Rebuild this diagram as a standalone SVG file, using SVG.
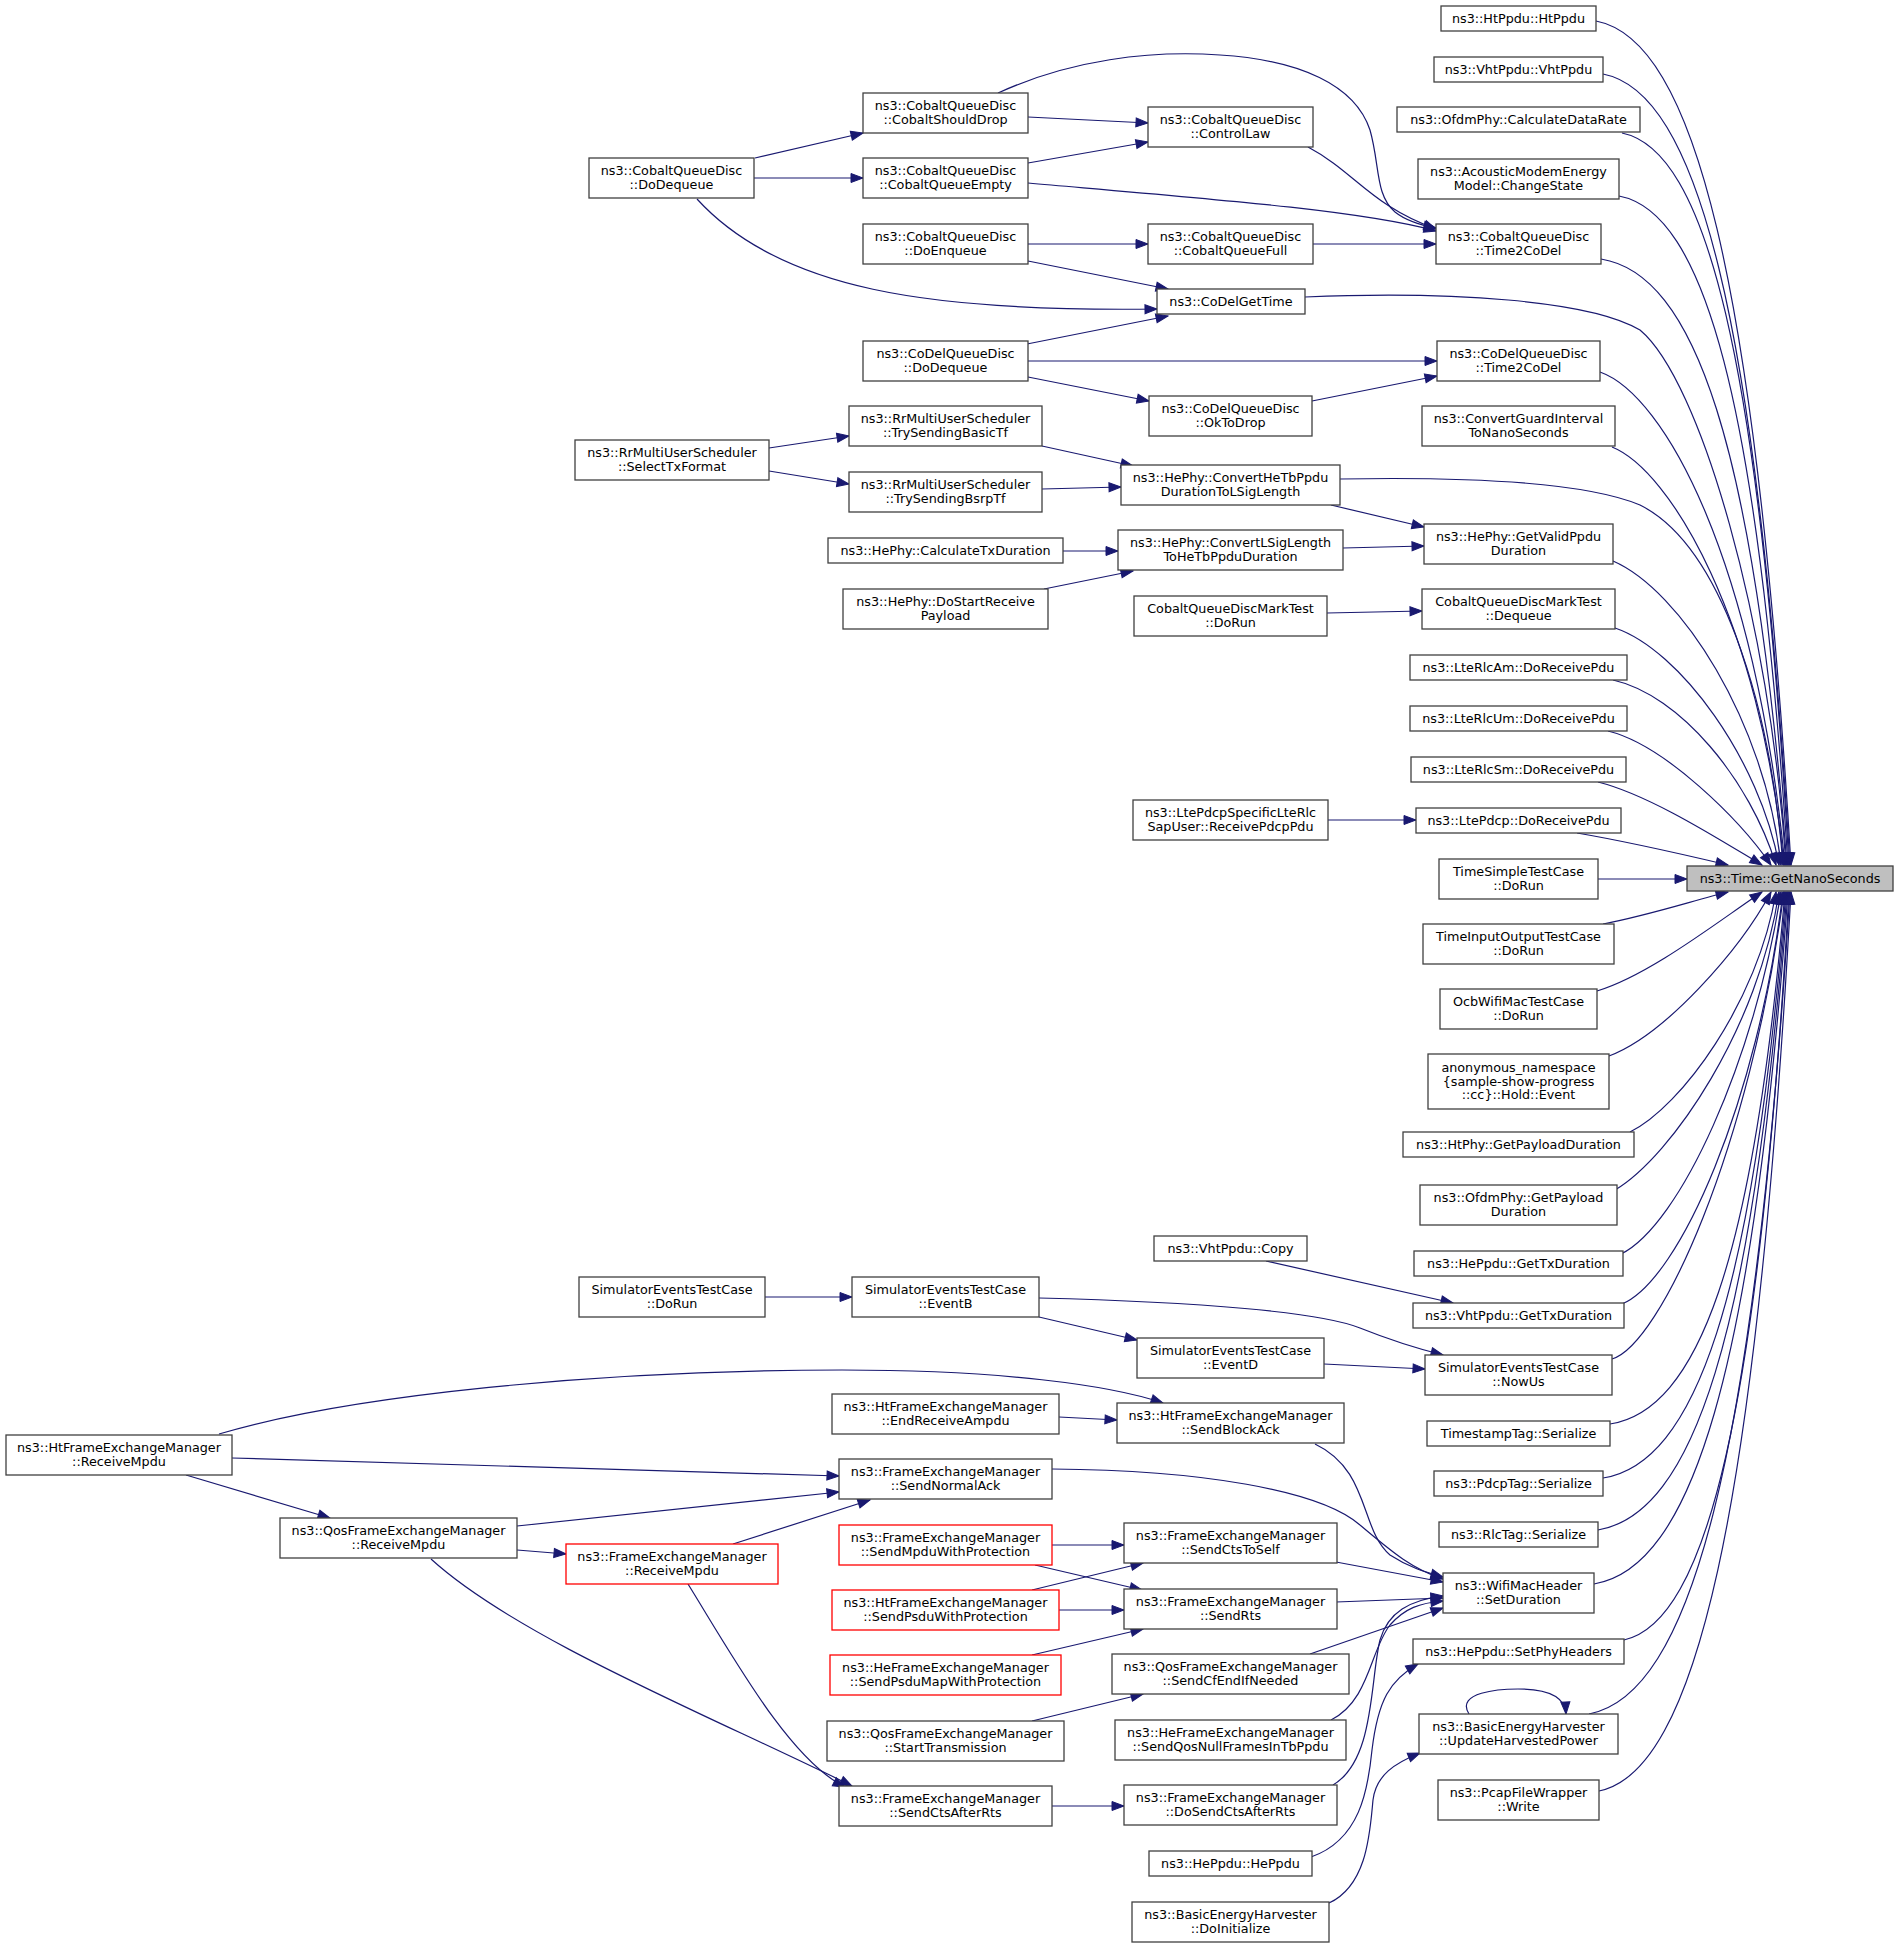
<svg xmlns="http://www.w3.org/2000/svg" width="1899" height="1948" viewBox="0 0 1899 1948">
<defs>
<marker id="a" markerUnits="userSpaceOnUse" markerWidth="14" markerHeight="10" refX="12" refY="4.5" orient="auto" overflow="visible"><path d="M0,0 L12,4.5 L0,9 z" fill="#191970" stroke="#191970" stroke-width="1"/></marker>
</defs>
<style>
.n rect{fill:#fff;stroke:#404040;stroke-width:1.3}
.r rect{stroke:#ff0000}
.g rect{fill:#bfbfbf}
text{font-family:"DejaVu Sans",sans-serif;font-size:12.75px;text-anchor:middle;fill:#000}
#edges path{fill:none;stroke:#191970;stroke-width:1.2;marker-end:url(#a)}
</style>
<rect width="1899" height="1948" fill="#fff"/>
<g id="edges">
<path d="M1596,21 C1693.5,39.7 1755.9,274.2 1791,865"/>
<path d="M1603,74 C1696.5,92 1756.3,311 1790,865"/>
<path d="M1622,133 C1705.5,150 1758.9,352.6 1789,865"/>
<path d="M1619,196 C1703.5,212 1757.6,396.7 1788,865"/>
<path d="M1601,259 C1694,274 1753.5,440.8 1787,865"/>
<path d="M1305,297 C1450,291 1590,300 1640,330 C1700,380 1770,620 1786,865"/>
<path d="M1600,372 C1665,395 1755,560 1785,865"/>
<path d="M1612,447 C1670,470 1760,620 1784,865"/>
<path d="M1340,479 C1450,477 1580,480 1640,505 C1720,545 1770,700 1783,865"/>
<path d="M1613,561 C1680,590 1765,720 1781,865"/>
<path d="M1615,628 C1680,650 1760,760 1779,865"/>
<path d="M1613,680 C1680,695 1750,780 1776,865"/>
<path d="M1608,731 C1665,745 1740,820 1771,865"/>
<path d="M1598,782 C1650,795 1720,840 1762,865"/>
<path d="M1577,833 C1630,842 1690,856 1728,865"/>
<path d="M1598,879 L1687,879"/>
<path d="M1603,924 C1650,915 1695,900 1728,892"/>
<path d="M1597,991 C1650,975 1720,920 1762,892"/>
<path d="M1609,1056 C1665,1035 1740,950 1771,892"/>
<path d="M1630,1132 C1681,1107 1758,1002 1776,892"/>
<path d="M1615,1190 C1672,1156 1759,1027 1779,892"/>
<path d="M1621,1254 C1680,1225 1755,1060 1781,892"/>
<path d="M1622,1304 C1680,1280 1758,1100 1783,892"/>
<path d="M1612,1359 C1660,1345 1750,1150 1784,892"/>
<path d="M1610,1424 C1697.5,1410 1753.5,1264 1785,892"/>
<path d="M1603,1478 C1695,1463 1753,1302 1786,892"/>
<path d="M1598,1530 C1692.5,1514 1753,1339 1787,892"/>
<path d="M1594,1584 C1691,1568 1753,1376 1788,892"/>
<path d="M1624,1640 C1706,1622 1759,1415 1789,892"/>
<path d="M1589,1714 C1689.5,1695 1753.8,1468 1790,892"/>
<path d="M1599,1791 C1694.5,1771.5 1756.3,1521 1791,892"/>
<path d="M755,158 L863,133"/>
<path d="M754,178 L863,178"/>
<path d="M697,199 C780,290 930,312 1157,309"/>
<path d="M1028,117 L1148,123"/>
<path d="M998,93 C1070,60 1150,50 1220,55 C1300,60 1355,85 1370,130 C1380,165 1375,195 1395,212 C1405,220 1420,225 1436,228"/>
<path d="M1028,163 L1148,142"/>
<path d="M1028,183 C1200,198 1360,210 1436,231"/>
<path d="M1308,147 C1355,172 1370,205 1436,229"/>
<path d="M1028,244 L1148,244"/>
<path d="M1028,261 L1168,289"/>
<path d="M1313,244 L1436,244"/>
<path d="M1027,344 L1168,316"/>
<path d="M1027,361 L1437,361"/>
<path d="M1028,377 L1149,401"/>
<path d="M1312,401 L1437,376"/>
<path d="M769,448 L849,436"/>
<path d="M769,471 L849,484"/>
<path d="M1042,446 L1133,466"/>
<path d="M1042,489 L1121,487"/>
<path d="M1331,505 L1424,527"/>
<path d="M1063,551 L1118,551"/>
<path d="M1044,589 L1133,571"/>
<path d="M1343,548 L1424,546"/>
<path d="M1327,613 L1422,611"/>
<path d="M1328,820 L1416,820"/>
<path d="M765,1297 L852,1297"/>
<path d="M1039,1298 C1200,1302 1320,1312 1360,1328 C1390,1340 1415,1348 1443,1355"/>
<path d="M1039,1317 L1137,1340"/>
<path d="M1324,1364 L1425,1369"/>
<path d="M1266,1261 L1453,1303"/>
<path d="M1059,1417 L1117,1420"/>
<path d="M219,1434 C350,1395 600,1370 842,1370 C1000,1370 1110,1385 1163,1403"/>
<path d="M232,1458 C500,1466 700,1470 839,1476"/>
<path d="M186,1475 L330,1518"/>
<path d="M517,1526 L839,1492"/>
<path d="M517,1550 L566,1554"/>
<path d="M431,1559 C520,1640 720,1720 852,1786"/>
<path d="M733,1544 L870,1500"/>
<path d="M688,1584 C735,1660 790,1760 845,1787"/>
<path d="M1315,1444 C1370,1470 1360,1530 1390,1555 C1410,1568 1425,1572 1443,1577"/>
<path d="M1052,1469 C1200,1470 1320,1490 1360,1525 C1390,1550 1410,1568 1443,1579"/>
<path d="M1052,1545 L1124,1545"/>
<path d="M1035,1565 L1142,1590"/>
<path d="M1032,1590 L1143,1563"/>
<path d="M1059,1610 L1124,1610"/>
<path d="M1032,1655 L1143,1629"/>
<path d="M1032,1721 L1143,1694"/>
<path d="M1336,1562 L1443,1582"/>
<path d="M1336,1602 L1443,1598"/>
<path d="M1310,1654 L1443,1608"/>
<path d="M1331,1720 C1370,1700 1370,1650 1390,1625 C1405,1608 1420,1603 1443,1601"/>
<path d="M1333,1785 C1375,1760 1370,1680 1380,1640 C1388,1612 1410,1600 1443,1596"/>
<path d="M1052,1806 L1124,1806"/>
<path d="M1311,1857 C1360,1840 1368,1790 1372,1750 C1378,1700 1390,1680 1418,1664"/>
<path d="M1329,1903 C1368,1885 1370,1830 1373,1800 C1376,1775 1395,1763 1420,1753"/>
<path d="M1469,1714 C1455,1692 1500,1689 1518,1689 C1545,1689 1565,1695 1566,1714"/>
</g>
<g id="n_getnano" class="n g"><rect x="1687" y="866" width="206" height="25"/><text x="1790" y="882.5">ns3::Time::GetNanoSeconds</text></g>
<g id="n_htppdu" class="n"><rect x="1441" y="6" width="155" height="25"/><text x="1518.5" y="22.5">ns3::HtPpdu::HtPpdu</text></g>
<g id="n_vhtppdu" class="n"><rect x="1434" y="57" width="169" height="25"/><text x="1518.5" y="73.5">ns3::VhtPpdu::VhtPpdu</text></g>
<g id="n_calcdr" class="n"><rect x="1397" y="107" width="243" height="25"/><text x="1518.5" y="123.5">ns3::OfdmPhy::CalculateDataRate</text></g>
<g id="n_acoustic" class="n"><rect x="1418" y="159" width="201" height="40"/><text x="1518.5" y="176.2">ns3::AcousticModemEnergy</text><text x="1518.5" y="189.9">Model::ChangeState</text></g>
<g id="n_cobt2c" class="n"><rect x="1436" y="224" width="165" height="40"/><text x="1518.5" y="241.2">ns3::CobaltQueueDisc</text><text x="1518.5" y="254.9">::Time2CoDel</text></g>
<g id="n_codelt2c" class="n"><rect x="1437" y="341" width="163" height="40"/><text x="1518.5" y="358.2">ns3::CoDelQueueDisc</text><text x="1518.5" y="371.9">::Time2CoDel</text></g>
<g id="n_convgi" class="n"><rect x="1422" y="406" width="193" height="40"/><text x="1518.5" y="423.2">ns3::ConvertGuardInterval</text><text x="1518.5" y="436.9">ToNanoSeconds</text></g>
<g id="n_getvalid" class="n"><rect x="1424" y="524" width="189" height="40"/><text x="1518.5" y="541.2">ns3::HePhy::GetValidPpdu</text><text x="1518.5" y="554.9">Duration</text></g>
<g id="n_mtdeq" class="n"><rect x="1422" y="589" width="193" height="40"/><text x="1518.5" y="606.2">CobaltQueueDiscMarkTest</text><text x="1518.5" y="619.9">::Dequeue</text></g>
<g id="n_rlcam" class="n"><rect x="1410" y="655" width="217" height="25"/><text x="1518.5" y="671.5">ns3::LteRlcAm::DoReceivePdu</text></g>
<g id="n_rlcum" class="n"><rect x="1410" y="706" width="217" height="25"/><text x="1518.5" y="722.5">ns3::LteRlcUm::DoReceivePdu</text></g>
<g id="n_rlcsm" class="n"><rect x="1411" y="757" width="215" height="25"/><text x="1518.5" y="773.5">ns3::LteRlcSm::DoReceivePdu</text></g>
<g id="n_pdcp" class="n"><rect x="1416" y="808" width="205" height="25"/><text x="1518.5" y="824.5">ns3::LtePdcp::DoReceivePdu</text></g>
<g id="n_timesimple" class="n"><rect x="1439" y="859" width="159" height="40"/><text x="1518.5" y="876.2">TimeSimpleTestCase</text><text x="1518.5" y="889.9">::DoRun</text></g>
<g id="n_timeio" class="n"><rect x="1423" y="924" width="191" height="40"/><text x="1518.5" y="941.2">TimeInputOutputTestCase</text><text x="1518.5" y="954.9">::DoRun</text></g>
<g id="n_ocb" class="n"><rect x="1440" y="989" width="157" height="40"/><text x="1518.5" y="1006.2">OcbWifiMacTestCase</text><text x="1518.5" y="1019.9">::DoRun</text></g>
<g id="n_anon" class="n"><rect x="1428" y="1054" width="181" height="55"/><text x="1518.5" y="1071.8">anonymous_namespace</text><text x="1518.5" y="1085.5">{sample-show-progress</text><text x="1518.5" y="1099.2">::cc}::Hold::Event</text></g>
<g id="n_htphy" class="n"><rect x="1403" y="1132" width="231" height="25"/><text x="1518.5" y="1148.5">ns3::HtPhy::GetPayloadDuration</text></g>
<g id="n_ofdmpay" class="n"><rect x="1420" y="1185" width="197" height="40"/><text x="1518.5" y="1202.2">ns3::OfdmPhy::GetPayload</text><text x="1518.5" y="1215.9">Duration</text></g>
<g id="n_heppdutx" class="n"><rect x="1414" y="1251" width="209" height="25"/><text x="1518.5" y="1267.5">ns3::HePpdu::GetTxDuration</text></g>
<g id="n_vhttx" class="n"><rect x="1413" y="1303" width="211" height="25"/><text x="1518.5" y="1319.5">ns3::VhtPpdu::GetTxDuration</text></g>
<g id="n_nowus" class="n"><rect x="1425" y="1355" width="187" height="40"/><text x="1518.5" y="1372.2">SimulatorEventsTestCase</text><text x="1518.5" y="1385.9">::NowUs</text></g>
<g id="n_timestamp" class="n"><rect x="1427" y="1421" width="183" height="25"/><text x="1518.5" y="1437.5">TimestampTag::Serialize</text></g>
<g id="n_pdcptag" class="n"><rect x="1434" y="1471" width="169" height="25"/><text x="1518.5" y="1487.5">ns3::PdcpTag::Serialize</text></g>
<g id="n_rlctag" class="n"><rect x="1439" y="1522" width="159" height="25"/><text x="1518.5" y="1538.5">ns3::RlcTag::Serialize</text></g>
<g id="n_setdur" class="n"><rect x="1443" y="1573" width="151" height="40"/><text x="1518.5" y="1590.2">ns3::WifiMacHeader</text><text x="1518.5" y="1603.9">::SetDuration</text></g>
<g id="n_setphy" class="n"><rect x="1413" y="1639" width="211" height="25"/><text x="1518.5" y="1655.5">ns3::HePpdu::SetPhyHeaders</text></g>
<g id="n_updharv" class="n"><rect x="1419" y="1714" width="199" height="40"/><text x="1518.5" y="1731.2">ns3::BasicEnergyHarvester</text><text x="1518.5" y="1744.9">::UpdateHarvestedPower</text></g>
<g id="n_pcap" class="n"><rect x="1438" y="1780" width="161" height="40"/><text x="1518.5" y="1797.2">ns3::PcapFileWrapper</text><text x="1518.5" y="1810.9">::Write</text></g>
<g id="n_ctrllaw" class="n"><rect x="1148" y="107" width="165" height="40"/><text x="1230.5" y="124.2">ns3::CobaltQueueDisc</text><text x="1230.5" y="137.9">::ControlLaw</text></g>
<g id="n_cqfull" class="n"><rect x="1148" y="224" width="165" height="40"/><text x="1230.5" y="241.2">ns3::CobaltQueueDisc</text><text x="1230.5" y="254.9">::CobaltQueueFull</text></g>
<g id="n_codelget" class="n"><rect x="1157" y="289" width="148" height="25"/><text x="1231" y="305.5">ns3::CoDelGetTime</text></g>
<g id="n_oktodrop" class="n"><rect x="1149" y="396" width="163" height="40"/><text x="1230.5" y="413.2">ns3::CoDelQueueDisc</text><text x="1230.5" y="426.9">::OkToDrop</text></g>
<g id="n_convhetb" class="n"><rect x="1121" y="465" width="219" height="40"/><text x="1230.5" y="482.2">ns3::HePhy::ConvertHeTbPpdu</text><text x="1230.5" y="495.9">DurationToLSigLength</text></g>
<g id="n_convlsig" class="n"><rect x="1118" y="530" width="225" height="40"/><text x="1230.5" y="547.2">ns3::HePhy::ConvertLSigLength</text><text x="1230.5" y="560.9">ToHeTbPpduDuration</text></g>
<g id="n_mtrun" class="n"><rect x="1134" y="596" width="193" height="40"/><text x="1230.5" y="613.2">CobaltQueueDiscMarkTest</text><text x="1230.5" y="626.9">::DoRun</text></g>
<g id="n_pdcpsap" class="n"><rect x="1133" y="800" width="195" height="40"/><text x="1230.5" y="817.2">ns3::LtePdcpSpecificLteRlc</text><text x="1230.5" y="830.9">SapUser::ReceivePdcpPdu</text></g>
<g id="n_vhtcopy" class="n"><rect x="1154" y="1236" width="153" height="25"/><text x="1230.5" y="1252.5">ns3::VhtPpdu::Copy</text></g>
<g id="n_eventd" class="n"><rect x="1137" y="1338" width="187" height="40"/><text x="1230.5" y="1355.2">SimulatorEventsTestCase</text><text x="1230.5" y="1368.9">::EventD</text></g>
<g id="n_sendba" class="n"><rect x="1117" y="1403" width="227" height="40"/><text x="1230.5" y="1420.2">ns3::HtFrameExchangeManager</text><text x="1230.5" y="1433.9">::SendBlockAck</text></g>
<g id="n_ctstoself" class="n"><rect x="1124" y="1523" width="213" height="40"/><text x="1230.5" y="1540.2">ns3::FrameExchangeManager</text><text x="1230.5" y="1553.9">::SendCtsToSelf</text></g>
<g id="n_sendrts" class="n"><rect x="1124" y="1589" width="213" height="40"/><text x="1230.5" y="1606.2">ns3::FrameExchangeManager</text><text x="1230.5" y="1619.9">::SendRts</text></g>
<g id="n_cfend" class="n"><rect x="1112" y="1654" width="237" height="40"/><text x="1230.5" y="1671.2">ns3::QosFrameExchangeManager</text><text x="1230.5" y="1684.9">::SendCfEndIfNeeded</text></g>
<g id="n_qosnull" class="n"><rect x="1115" y="1720" width="231" height="40"/><text x="1230.5" y="1737.2">ns3::HeFrameExchangeManager</text><text x="1230.5" y="1750.9">::SendQosNullFramesInTbPpdu</text></g>
<g id="n_dosendcts" class="n"><rect x="1124" y="1785" width="213" height="40"/><text x="1230.5" y="1802.2">ns3::FrameExchangeManager</text><text x="1230.5" y="1815.9">::DoSendCtsAfterRts</text></g>
<g id="n_heppdu" class="n"><rect x="1149" y="1851" width="163" height="25"/><text x="1230.5" y="1867.5">ns3::HePpdu::HePpdu</text></g>
<g id="n_doinit" class="n"><rect x="1132" y="1902" width="197" height="40"/><text x="1230.5" y="1919.2">ns3::BasicEnergyHarvester</text><text x="1230.5" y="1932.9">::DoInitialize</text></g>
<g id="n_shoulddrop" class="n"><rect x="863" y="93" width="165" height="40"/><text x="945.5" y="110.2">ns3::CobaltQueueDisc</text><text x="945.5" y="123.9">::CobaltShouldDrop</text></g>
<g id="n_cqempty" class="n"><rect x="863" y="158" width="165" height="40"/><text x="945.5" y="175.2">ns3::CobaltQueueDisc</text><text x="945.5" y="188.9">::CobaltQueueEmpty</text></g>
<g id="n_doenq" class="n"><rect x="863" y="224" width="165" height="40"/><text x="945.5" y="241.2">ns3::CobaltQueueDisc</text><text x="945.5" y="254.9">::DoEnqueue</text></g>
<g id="n_codeldeq" class="n"><rect x="863" y="341" width="165" height="40"/><text x="945.5" y="358.2">ns3::CoDelQueueDisc</text><text x="945.5" y="371.9">::DoDequeue</text></g>
<g id="n_basictf" class="n"><rect x="849" y="406" width="193" height="40"/><text x="945.5" y="423.2">ns3::RrMultiUserScheduler</text><text x="945.5" y="436.9">::TrySendingBasicTf</text></g>
<g id="n_bsrptf" class="n"><rect x="849" y="472" width="193" height="40"/><text x="945.5" y="489.2">ns3::RrMultiUserScheduler</text><text x="945.5" y="502.9">::TrySendingBsrpTf</text></g>
<g id="n_calctx" class="n"><rect x="828" y="538" width="235" height="25"/><text x="945.5" y="554.5">ns3::HePhy::CalculateTxDuration</text></g>
<g id="n_dostartrx" class="n"><rect x="843" y="589" width="205" height="40"/><text x="945.5" y="606.2">ns3::HePhy::DoStartReceive</text><text x="945.5" y="619.9">Payload</text></g>
<g id="n_eventb" class="n"><rect x="852" y="1277" width="187" height="40"/><text x="945.5" y="1294.2">SimulatorEventsTestCase</text><text x="945.5" y="1307.9">::EventB</text></g>
<g id="n_endampdu" class="n"><rect x="832" y="1394" width="227" height="40"/><text x="945.5" y="1411.2">ns3::HtFrameExchangeManager</text><text x="945.5" y="1424.9">::EndReceiveAmpdu</text></g>
<g id="n_normalack" class="n"><rect x="839" y="1459" width="213" height="40"/><text x="945.5" y="1476.2">ns3::FrameExchangeManager</text><text x="945.5" y="1489.9">::SendNormalAck</text></g>
<g id="n_mpduprot" class="n r"><rect x="839" y="1525" width="213" height="40"/><text x="945.5" y="1542.2">ns3::FrameExchangeManager</text><text x="945.5" y="1555.9">::SendMpduWithProtection</text></g>
<g id="n_psduprot" class="n r"><rect x="832" y="1590" width="227" height="40"/><text x="945.5" y="1607.2">ns3::HtFrameExchangeManager</text><text x="945.5" y="1620.9">::SendPsduWithProtection</text></g>
<g id="n_psdumap" class="n r"><rect x="830" y="1655" width="231" height="40"/><text x="945.5" y="1672.2">ns3::HeFrameExchangeManager</text><text x="945.5" y="1685.9">::SendPsduMapWithProtection</text></g>
<g id="n_starttx" class="n"><rect x="827" y="1721" width="237" height="40"/><text x="945.5" y="1738.2">ns3::QosFrameExchangeManager</text><text x="945.5" y="1751.9">::StartTransmission</text></g>
<g id="n_ctsafter" class="n"><rect x="839" y="1786" width="213" height="40"/><text x="945.5" y="1803.2">ns3::FrameExchangeManager</text><text x="945.5" y="1816.9">::SendCtsAfterRts</text></g>
<g id="n_dodeq" class="n"><rect x="589" y="158" width="165" height="40"/><text x="671.5" y="175.2">ns3::CobaltQueueDisc</text><text x="671.5" y="188.9">::DoDequeue</text></g>
<g id="n_selecttx" class="n"><rect x="575" y="440" width="194" height="40"/><text x="672" y="457.2">ns3::RrMultiUserScheduler</text><text x="672" y="470.9">::SelectTxFormat</text></g>
<g id="n_simdorun" class="n"><rect x="579" y="1277" width="186" height="40"/><text x="672" y="1294.2">SimulatorEventsTestCase</text><text x="672" y="1307.9">::DoRun</text></g>
<g id="n_femrecv" class="n r"><rect x="566" y="1544" width="212" height="40"/><text x="672" y="1561.2">ns3::FrameExchangeManager</text><text x="672" y="1574.9">::ReceiveMpdu</text></g>
<g id="n_qosrecv" class="n"><rect x="280" y="1518" width="237" height="40"/><text x="398.5" y="1535.2">ns3::QosFrameExchangeManager</text><text x="398.5" y="1548.9">::ReceiveMpdu</text></g>
<g id="n_htrecv" class="n"><rect x="6" y="1435" width="226" height="40"/><text x="119" y="1452.2">ns3::HtFrameExchangeManager</text><text x="119" y="1465.9">::ReceiveMpdu</text></g>
</svg>
